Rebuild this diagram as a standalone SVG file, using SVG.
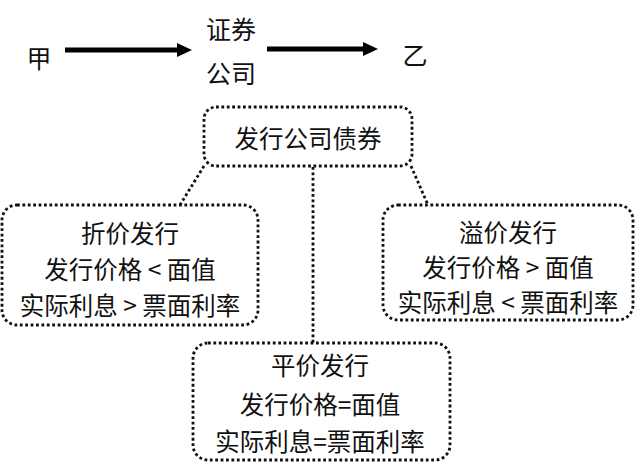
<svg xmlns="http://www.w3.org/2000/svg" width="640" height="469" viewBox="0 0 640 469">
<style>
text{font-family:"Noto Sans CJK SC","Liberation Sans",sans-serif;fill:#111;text-anchor:middle;dominant-baseline:central}
.t{font-size:24.5px}
.box{fill:none;stroke:#111;stroke-width:2.8;stroke-dasharray:2.8 2.6}
.dot{fill:none;stroke:#111;stroke-width:2.8;stroke-dasharray:2.8 2.6}
.arr{stroke:#000;stroke-width:5;fill:none}
</style>
<rect width="640" height="469" fill="#fff"/>
<g id="jia"><text x="39" y="57" style="font-size:25px">甲</text></g>
<g id="zhengquan"><text x="231" y="28" style="font-size:25px">证券</text><text x="231" y="72" style="font-size:25px">公司</text></g>
<g id="yi"><text x="415" y="54" style="font-size:25px">乙</text></g>
<g id="connectors">
<line class="arr" x1="65" y1="50" x2="180" y2="50"/>
<polygon points="177,43 192,50 177,57" fill="#000"/>
<line class="arr" x1="267" y1="49" x2="365" y2="49"/>
<polygon points="363,42 378,49 363,56" fill="#000"/>
<line class="dot" x1="204" y1="166" x2="180" y2="205"/>
<line class="dot" x1="313" y1="167" x2="313" y2="343"/>
<line class="dot" x1="411" y1="166" x2="428" y2="205"/>
</g>
<g id="top"><rect class="box" x="204" y="107" width="208" height="59" rx="12"/><text x="308" y="137" style="font-size:24.5px">发行公司债券</text></g>
<g id="left"><rect class="box" x="2" y="205" width="256" height="120" rx="15"/>
<text class="t" x="130" y="232">折价发行</text><text class="t" x="130" y="268">发行价格 &lt; 面值</text><text class="t" x="130" y="304">实际利息 &gt; 票面利率</text></g>
<g id="right"><rect class="box" x="383" y="205" width="250" height="115" rx="15"/>
<text class="t" x="508" y="231">溢价发行</text><text class="t" x="508" y="266">发行价格 &gt; 面值</text><text class="t" x="508" y="301">实际利息 &lt; 票面利率</text></g>
<g id="bottom"><rect class="box" x="193" y="343" width="257" height="117" rx="15"/>
<text class="t" x="320" y="364">平价发行</text><text class="t" x="320" y="403">发行价格=面值</text><text class="t" x="320" y="440">实际利息=票面利率</text></g>
</svg>
